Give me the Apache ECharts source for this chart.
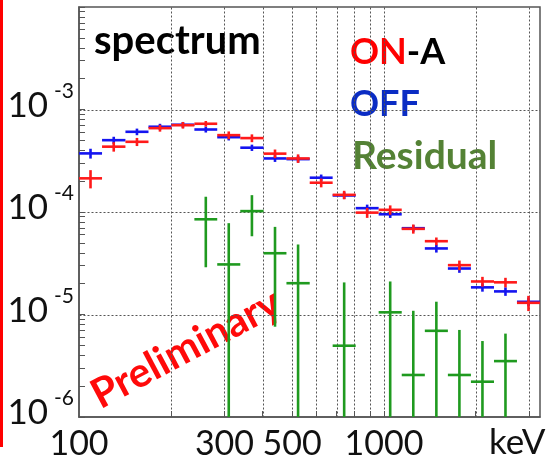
<!DOCTYPE html>
<html>
<head>
<meta charset="utf-8">
<script src="https://cdn.jsdelivr.net/npm/echarts@6/dist/echarts.min.js"></script>
<style>
  html, body { margin: 0; padding: 0; background: #ffffff; }
  #chart { width: 549px; height: 464px; }
</style>
</head>
<body>
<div id="chart"></div>
<script>
// Energy bin edges (keV), 20 log-spaced bins
const binEdges = [100, 119, 142, 169, 201, 239, 284, 338, 403, 479, 571,
                  679, 808, 961, 1144, 1362, 1621, 1929, 2296, 2731, 3250];

// ON-A spectrum (red)
const onValues = [2.13e-4, 4.34e-4, 4.84e-4, 6.58e-4, 7.03e-4, 7.26e-4, 5.62e-4, 5.26e-4, 3.71e-4, 3.33e-4,
                  1.93e-4, 1.47e-4, 9.86e-5, 1.05e-4, 6.85e-5, 5.19e-5, 3.03e-5, 2.10e-5, 2.06e-5, 1.30e-5];
const onErrors = [4.3e-5, 4.6e-5, 4.4e-5, 5.0e-5, 5.2e-5, 4.6e-5, 4.9e-5, 4.6e-5, 3.6e-5, 3.2e-5,
                  1.9e-5, 1.4e-5, 1.1e-5, 1.1e-5, 7.0e-6, 4.5e-6, 3.3e-6, 2.3e-6, 2.2e-6, 2.2e-6];

// OFF spectrum (blue)
const offValues = [3.73e-4, 5.02e-4, 6.06e-4, 6.79e-4, 7.10e-4, 6.38e-4, 5.37e-4, 4.24e-4, 3.33e-4, 3.28e-4,
                   2.16e-4, 1.45e-4, 1.09e-4, 9.5e-5, 6.95e-5, 4.41e-5, 2.81e-5, 1.84e-5, 1.68e-5, 1.33e-5];
const offErrors = [4.1e-5, 4.0e-5, 4.5e-5, 4.6e-5, 4.6e-5, 4.2e-5, 3.8e-5, 3.0e-5, 2.5e-5, 2.4e-5,
                   1.6e-5, 1.1e-5, 9.0e-6, 7.5e-6, 5.3e-6, 3.9e-6, 2.6e-6, 1.7e-6, 1.6e-6, 1.3e-6];

// Residual (green); null where the residual is not positive
const resValues = [null, null, null, null, null, 8.49e-5, 3.08e-5, 1.02e-4, 3.96e-5, 2.02e-5,
                   null, 4.96e-6, null, 1.05e-5, 2.57e-6, 6.93e-6, 2.57e-6, 2.21e-6, 3.51e-6, null];
const resErrors = [null, null, null, null, null, 5.6e-5, 4.7e-5, 4.4e-5, 3.2e-5, 2.8e-5,
                   null, 1.56e-5, null, 1.05e-5, 8.3e-6, 6.4e-6, 4.5e-6, 3.3e-6, 3.0e-6, null];

// Axis ranges, tick labels and grid positions
const xRange = [100, 3250];
const yRange = [1e-6, 1e-2];
const xTickLabels = [100, 300, 500, 1000];
const xGridValues = [200, 300, 400, 500, 600, 700, 800, 900, 1000, 2000, 3000];
const yTickLabels = [1e-6, 1e-5, 1e-4, 1e-3];
const yGridValues = [1e-5, 1e-4, 1e-3];

const FONT = 'Lato, "Open Sans", sans-serif';

// minor ticks on the log y axis: 1..9 x each decade
const yMinorTicks = [];
for (let e = -6; e < -2; e++) {
  for (let m = 1; m <= 9; m++) yMinorTicks.push(+(m + 'e' + e));
}
yMinorTicks.push(1e-2);

function binData(values, errors) {
  const out = [];
  for (let i = 0; i < values.length; i++) {
    if (values[i] == null) continue;
    out.push([binEdges[i], binEdges[i + 1], values[i], errors[i]]);
  }
  return out;
}

// Draws a histogram point: horizontal bar across the bin, vertical error bar at bin centre
function errorBarRenderer(color) {
  return function (params, api) {
    const lo = api.value(0), hi = api.value(1), v = api.value(2), s = api.value(3);
    const c = Math.sqrt(lo * hi);
    const pL = api.coord([lo, v]);
    const pR = api.coord([hi, v]);
    const pT = api.coord([c, v + s]);
    const pB = api.coord([c, Math.max(v - s, yRange[0])]);
    const style = { stroke: color, lineWidth: 2.6 };
    return {
      type: 'group',
      children: [
        { type: 'line', shape: { x1: pL[0], y1: pL[1], x2: pR[0], y2: pR[1] }, style: style },
        { type: 'line', shape: { x1: pT[0], y1: pT[1], x2: pB[0], y2: pB[1] }, style: style }
      ]
    };
  };
}

// Dotted grid line: vertical for kind 0 (x value), horizontal for kind 1 (y value)
function gridLineRenderer(params, api) {
  const kind = api.value(0), v = api.value(1);
  let p1, p2;
  if (kind === 0) {
    p1 = api.coord([v, yRange[0]]);
    p2 = api.coord([v, yRange[1]]);
  } else {
    p1 = api.coord([xRange[0], v]);
    p2 = api.coord([xRange[1], v]);
  }
  return {
    type: 'line',
    shape: { x1: Math.round(p1[0]) + 0.5, y1: Math.round(p1[1]) + 0.5, x2: Math.round(p2[0]) + 0.5, y2: Math.round(p2[1]) + 0.5 },
    style: { stroke: '#555', lineWidth: 1, lineDash: [2, 2] }
  };
}

const gridLineData = xGridValues.map(function (v) { return [0, v]; })
  .concat(yGridValues.map(function (v) { return [1, v]; }));

const chart = echarts.init(document.getElementById('chart'), null, { renderer: 'canvas' });

const option = {
  animation: false,
  backgroundColor: '#ffffff',
  grid: {
    left: 79, right: 9, top: 7, bottom: 47,
    show: true, borderColor: '#555', borderWidth: 1.5, backgroundColor: 'transparent'
  },
  xAxis: {
    type: 'log', logBase: 10, min: xRange[0], max: xRange[1],
    axisLine: { show: true, lineStyle: { color: '#555', width: 1.5 } },
    axisTick: { show: true, inside: true, length: 6, customValues: xGridValues, lineStyle: { color: '#555' } },
    splitLine: { show: false },
    axisLabel: {
      customValues: xTickLabels, margin: 10, color: '#111',
      fontFamily: FONT, fontSize: 34,
      formatter: function (v) { return String(Math.round(v)); }
    }
  },
  yAxis: {
    type: 'log', logBase: 10, min: yRange[0], max: yRange[1],
    axisLine: { show: true, lineStyle: { color: '#555', width: 1.5 } },
    axisTick: { show: true, inside: true, length: 6, customValues: yMinorTicks, lineStyle: { color: '#555' } },
    splitLine: { show: false },
    axisLabel: {
      customValues: yTickLabels, margin: 5, padding: [0, 0, 8, 0],
      formatter: function (v) {
        return '{b|10}{s|' + Math.round(Math.log10(v)) + '}';
      },
      rich: {
        b: { fontFamily: FONT, fontSize: 35, color: '#111', lineHeight: 50, verticalAlign: 'middle' },
        s: { fontFamily: FONT, fontSize: 21, color: '#111', verticalAlign: 'top', padding: [0, 0, 0, 6] }
      }
    }
  },
  series: [
    {
      name: 'grid', type: 'custom', silent: true, clip: true,
      renderItem: gridLineRenderer,
      encode: { x: -1, y: -1 },
      data: gridLineData
    },
    {
      name: 'OFF', type: 'custom', clip: true,
      renderItem: errorBarRenderer('#1414f0'),
      encode: { x: [0, 1], y: [2] },
      data: binData(offValues, offErrors)
    },
    {
      name: 'ON-A', type: 'custom', clip: true,
      renderItem: errorBarRenderer('#ff1a1a'),
      encode: { x: [0, 1], y: [2] },
      data: binData(onValues, onErrors)
    },
    {
      name: 'Residual', type: 'custom', clip: true,
      renderItem: errorBarRenderer('#1f9a1f'),
      encode: { x: [0, 1], y: [2] },
      data: binData(resValues, resErrors)
    }
  ],
  graphic: [
    { type: 'rect', shape: { x: 0, y: 0, width: 3, height: 447 }, style: { fill: '#ff0000' } },
    {
      type: 'text', x: 94, y: 41,
      style: { text: 'spectrum', font: 'bold 40px ' + FONT, fill: '#000', textAlign: 'left', textVerticalAlign: 'middle' }
    },
    {
      type: 'text', x: 350, y: 52,
      style: {
        text: '{r|ON}{k|-A}', textAlign: 'left', textVerticalAlign: 'middle',
        rich: {
          r: { font: 'bold 36px ' + FONT, fill: '#ff0000', color: '#ff0000' },
          k: { font: 'bold 36px ' + FONT, fill: '#000000', color: '#000000' }
        }
      }
    },
    {
      type: 'text', x: 350, y: 104,
      style: { text: 'OFF', font: 'bold 36px ' + FONT, fill: '#0a2cc4', textAlign: 'left', textVerticalAlign: 'middle' }
    },
    {
      type: 'text', x: 352, y: 156,
      style: { text: 'Residual', font: 'bold 39px ' + FONT, fill: '#548235', textAlign: 'left', textVerticalAlign: 'middle' }
    },
    {
      type: 'text', x: 186, y: 349, rotation: 28 * Math.PI / 180,
      style: { text: 'Preliminary', font: 'bold 41px ' + FONT, fill: '#ff0a0a', textAlign: 'center', textVerticalAlign: 'middle' }
    },
    {
      type: 'text', x: 489, y: 443,
      style: { text: 'keV', font: '35px ' + FONT, fill: '#111', textAlign: 'left', textVerticalAlign: 'middle' }
    }
  ]
};

chart.setOption(option);
</script>
</body>
</html>
